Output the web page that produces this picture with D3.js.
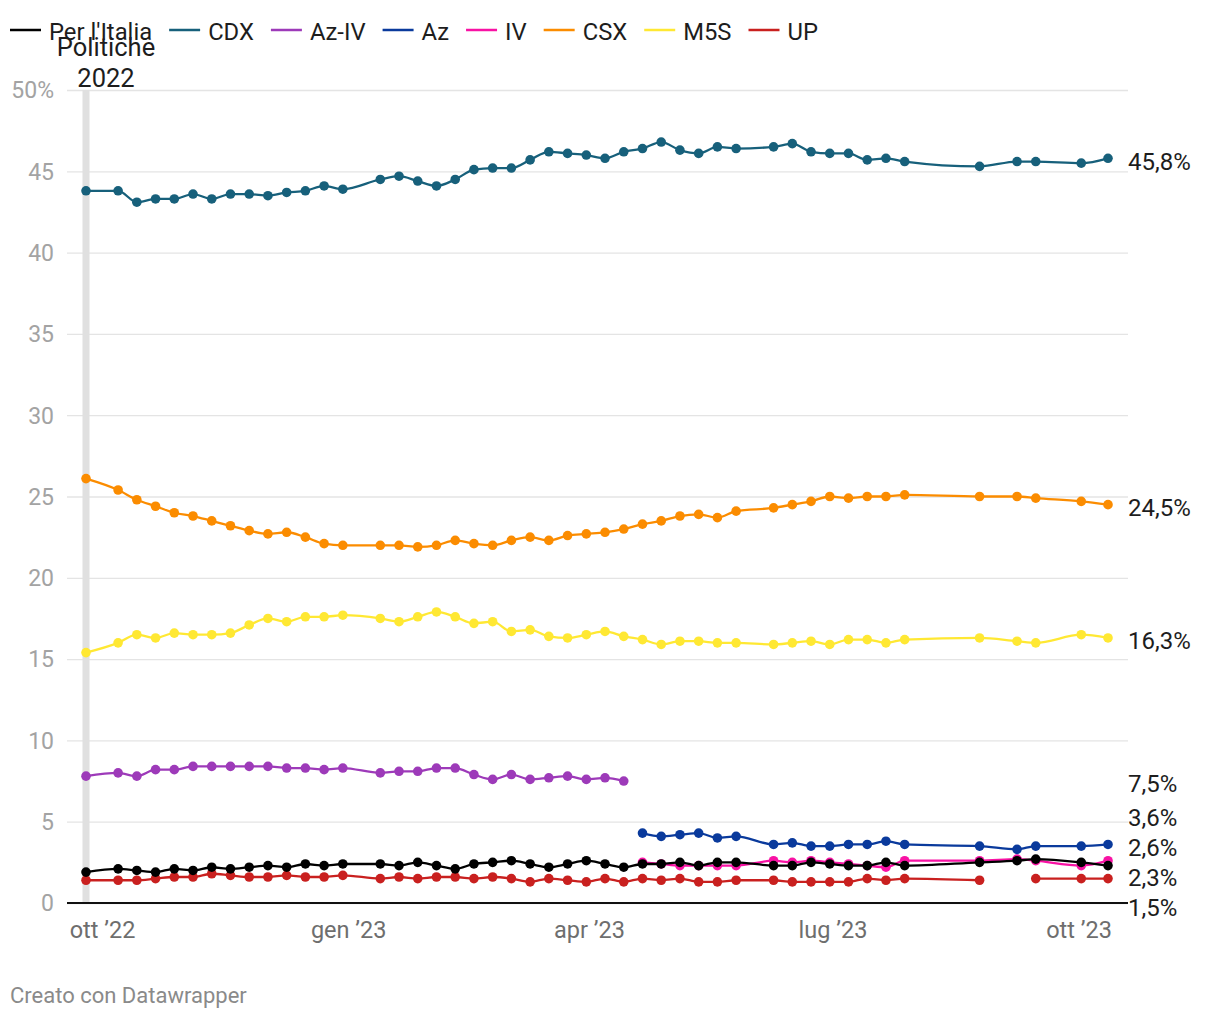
<!DOCTYPE html>
<html><head><meta charset="utf-8">
<script src="https://cdn.jsdelivr.net/npm/d3@7"></script>
<style>body{margin:0;background:#fff;font-family:Roboto,sans-serif}</style>
</head><body>
<svg id="c" width="1220" height="1020"></svg>
<script>
const dates = [
 "2022-09-25","2022-10-07","2022-10-14","2022-10-21","2022-10-28","2022-11-04","2022-11-11","2022-11-18","2022-11-25","2022-12-02","2022-12-09","2022-12-16","2022-12-23","2022-12-30",
 "2023-01-13","2023-01-20","2023-01-27","2023-02-03","2023-02-10","2023-02-17","2023-02-24","2023-03-03","2023-03-10","2023-03-17","2023-03-24","2023-03-31","2023-04-07",
 "2023-04-14","2023-04-21","2023-04-28","2023-05-05","2023-05-12","2023-05-19","2023-05-26",
 "2023-06-09","2023-06-16","2023-06-23","2023-06-30","2023-07-07","2023-07-14","2023-07-21","2023-07-28",
 "2023-08-25","2023-09-08","2023-09-15","2023-10-02","2023-10-12"];

const perItalia = [1.9,2.1,2.0,1.9,2.1,2.0,2.2,2.1,2.2,2.3,2.2,2.4,2.3,2.4,
 2.4,2.3,2.5,2.3,2.1,2.4,2.5,2.6,2.4,2.2,2.4,2.6,2.4,
 2.2,2.4,2.4,2.5,2.3,2.5,2.5,
 2.3,2.3,2.5,2.4,2.3,2.3,2.5,2.3,
 2.5,2.6,2.7,2.5,2.3];
const cdx = [43.8,43.8,43.1,43.3,43.3,43.6,43.3,43.6,43.6,43.5,43.7,43.8,44.1,43.9,
 44.5,44.7,44.4,44.1,44.5,45.1,45.2,45.2,45.7,46.2,46.1,46.0,45.8,
 46.2,46.4,46.8,46.3,46.1,46.5,46.4,
 46.5,46.7,46.2,46.1,46.1,45.7,45.8,45.6,
 45.3,45.6,45.6,45.5,45.8];
const azIv = [7.8,8.0,7.8,8.2,8.2,8.4,8.4,8.4,8.4,8.4,8.3,8.3,8.2,8.3,
 8.0,8.1,8.1,8.3,8.3,7.9,7.6,7.9,7.6,7.7,7.8,7.6,7.7,
 7.5,null,null,null,null,null,null,
 null,null,null,null,null,null,null,null,
 null,null,null,null,null];
const az = [null,null,null,null,null,null,null,null,null,null,null,null,null,null,
 null,null,null,null,null,null,null,null,null,null,null,null,null,
 null,4.3,4.1,4.2,4.3,4.0,4.1,
 3.6,3.7,3.5,3.5,3.6,3.6,3.8,3.6,
 3.5,3.3,3.5,3.5,3.6];
const iv = [null,null,null,null,null,null,null,null,null,null,null,null,null,null,
 null,null,null,null,null,null,null,null,null,null,null,null,null,
 null,2.5,2.4,2.3,2.3,2.3,2.3,
 2.6,2.5,2.6,2.5,2.4,2.3,2.2,2.6,
 2.6,2.7,2.6,2.3,2.6];
const csx = [26.1,25.4,24.8,24.4,24.0,23.8,23.5,23.2,22.9,22.7,22.8,22.5,22.1,22.0,
 22.0,22.0,21.9,22.0,22.3,22.1,22.0,22.3,22.5,22.3,22.6,22.7,22.8,
 23.0,23.3,23.5,23.8,23.9,23.7,24.1,
 24.3,24.5,24.7,25.0,24.9,25.0,25.0,25.1,
 25.0,25.0,24.9,24.7,24.5];
const m5s = [15.4,16.0,16.5,16.3,16.6,16.5,16.5,16.6,17.1,17.5,17.3,17.6,17.6,17.7,
 17.5,17.3,17.6,17.9,17.6,17.2,17.3,16.7,16.8,16.4,16.3,16.5,16.7,
 16.4,16.2,15.9,16.1,16.1,16.0,16.0,
 15.9,16.0,16.1,15.9,16.2,16.2,16.0,16.2,
 16.3,16.1,16.0,16.5,16.3];
const up = [1.4,1.4,1.4,1.5,1.6,1.6,1.8,1.7,1.6,1.6,1.7,1.6,1.6,1.7,
 1.5,1.6,1.5,1.6,1.6,1.5,1.6,1.5,1.3,1.5,1.4,1.3,1.5,
 1.3,1.5,1.4,1.5,1.3,1.3,1.4,
 1.4,1.3,1.3,1.3,1.3,1.5,1.4,1.5,
 1.4,null,1.5,1.5,1.5];

const seriesNames = ["Per l'Italia","CDX","Az-IV","Az","IV","CSX","M5S","UP"];
const seriesValues = [perItalia, cdx, azIv, az, iv, csx, m5s, up];
const seriesColors = ["#000000","#17607b","#9d3ab9","#0a3a9c","#f812a4","#fb8c00","#ffe833","#c9201f"];

const yTicks = [0,5,10,15,20,25,30,35,40,45,50];
const xTickDates = ["2022-10-01","2023-01-01","2023-04-01","2023-07-01","2023-10-01"];
const xTickLabels = ["ott \u201922","gen \u201923","apr \u201923","lug \u201923","ott \u201923"];
const eventDate = "2022-09-25";
const eventLabel = ["Politiche","2022"];
const footer = "Creato con Datawrapper";

const parse = d3.timeParse("%Y-%m-%d");
const svg = d3.select("#c");
const gridL = 67, gridR = 1128;

const x = d3.scaleTime().domain([parse(dates[0]), parse(dates[dates.length-1])]).range([86, 1108]);
const y = d3.scaleLinear().domain([0, 50]).range([903, 90]);

// gridlines + y labels
const yAxis = svg.append("g").attr("transform", `translate(${gridL},0)`)
  .call(d3.axisLeft(y).tickValues(yTicks).tickSize(-(gridR-gridL)).tickPadding(13)
    .tickFormat(d => d === 50 ? d + "%" : d));
yAxis.select(".domain").remove();
yAxis.selectAll(".tick line").attr("stroke", "#e4e4e4").attr("stroke-width", 1.3);
yAxis.selectAll(".tick text").attr("fill", "#a3a3a3").style("font-size", "23px")
  .style("font-family", "Roboto").attr("dy", "0.34em");

// event band
svg.append("rect").attr("x", x(parse(eventDate)) - 3.5).attr("width", 7)
  .attr("y", y(50)).attr("height", y(0) - y(50)).attr("fill", "#e0e0e0");

// baseline
svg.append("line").attr("x1", gridL).attr("x2", gridR).attr("y1", y(0)).attr("y2", y(0))
  .attr("stroke", "#111").attr("stroke-width", 2);

// x axis
const xAxis = svg.append("g").attr("transform", `translate(0,${y(0)})`)
  .call(d3.axisBottom(x).tickValues(xTickDates.map(parse)).tickSize(0).tickPadding(18)
    .tickFormat((d, i) => xTickLabels[i]));
xAxis.select(".domain").remove();
xAxis.selectAll(".tick text").attr("fill", "#6e6e6e").style("font-size", "23.5px").style("font-family", "Roboto");

// series
const series = seriesNames.map((name, i) => ({
  name, color: seriesColors[i],
  points: dates.map((d, j) => ({date: parse(d), v: seriesValues[i][j]}))
}));
const line = d3.line().defined(d => d.v != null).x(d => x(d.date)).y(d => y(d.v)).curve(d3.curveMonotoneX);

const drawOrder = series.slice().reverse();
drawOrder.forEach(s => {
  const g = svg.append("g");
  g.append("path").datum(s.points).attr("d", line).attr("fill", "none")
    .attr("stroke", s.color).attr("stroke-width", 2.3).attr("stroke-linejoin", "round");
  g.selectAll("circle").data(s.points.filter(p => p.v != null)).join("circle")
    .attr("cx", p => x(p.date)).attr("cy", p => y(p.v)).attr("r", 4.8).attr("fill", s.color);
});

// end labels with collision avoidance
const labels = series.map(s => {
  const def = s.points.filter(p => p.v != null);
  const last = def[def.length - 1];
  return {v: last.v, y: y(last.v)};
});
labels.sort((a, b) => a.y - b.y);
const gap = 30;
let clusters = [];
labels.forEach(l => {
  clusters.push({items: [l]});
  const top = c => d3.mean(c.items, (it, k) => it.y - k * gap);
  clusters[clusters.length-1].top = top(clusters[clusters.length-1]);
  while (clusters.length > 1) {
    const a = clusters[clusters.length-2], b = clusters[clusters.length-1];
    if (a.top + a.items.length * gap > b.top) {
      a.items = a.items.concat(b.items); clusters.pop(); a.top = top(a);
    } else break;
  }
});
// keep the lowest cluster from going below the baseline
const maxY = y(0) + 2;
const lastC = clusters[clusters.length - 1];
const overflow = lastC.top + (lastC.items.length - 1) * gap - maxY;
if (overflow > 0) lastC.top -= overflow;
clusters.forEach(c => c.items.forEach((it, k) => it.ly = c.top + k * gap));
svg.append("g").selectAll("text").data(labels).join("text")
  .attr("x", gridR).attr("y", d => d.ly + 3).attr("dy", "0.35em")
  .attr("fill", "#1d1d1d").style("font-size", "24px")
  .text(d => d3.format(".1f")(d.v).replace(".", ",") + "%");

// legend
const leg = svg.append("g");
let lx = 10;
series.forEach(s => {
  leg.append("line").attr("x1", lx).attr("x2", lx + 31).attr("y1", 30).attr("y2", 30)
    .attr("stroke", s.color).attr("stroke-width", 2.5);
  const t = leg.append("text").attr("x", lx + 39).attr("y", 40).attr("fill", "#1d1d1d")
    .style("font-size", "23.8px").text(s.name);
  lx += 39 + t.node().getComputedTextLength() + 17;
});

// event annotation
const ex = x(parse(eventDate)) + 20;
svg.append("text").attr("x", ex).attr("y", 56).attr("text-anchor", "middle")
  .attr("fill", "#1d1d1d").style("font-size", "25.5px").text(eventLabel[0]);
svg.append("text").attr("x", ex).attr("y", 87).attr("text-anchor", "middle")
  .attr("fill", "#1d1d1d").style("font-size", "25.5px").text(eventLabel[1]);

// footer
svg.append("text").attr("x", 10).attr("y", 1003).attr("fill", "#8a8a8a")
  .style("font-size", "22px").text(footer);
</script>
</body></html>
